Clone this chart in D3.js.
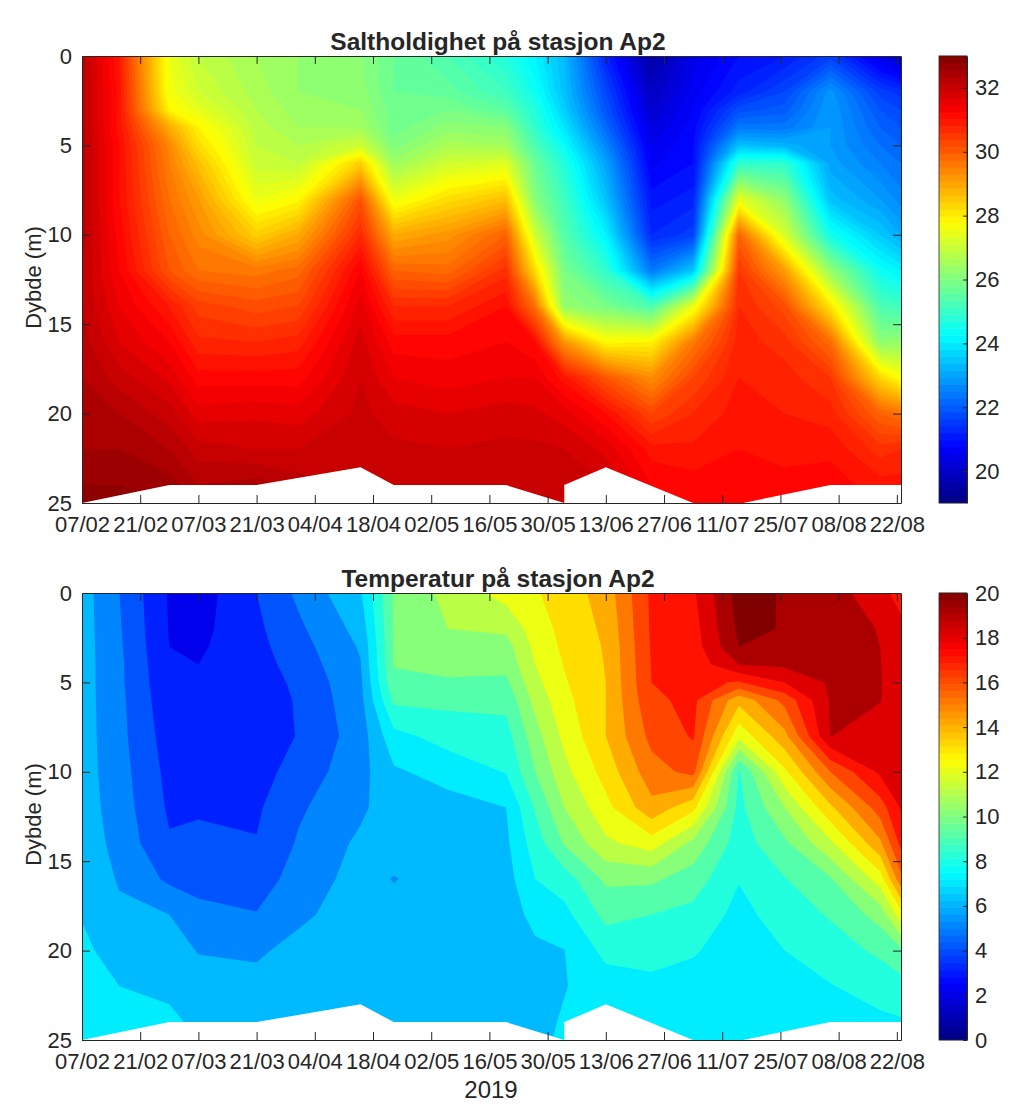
<!DOCTYPE html>
<html><head><meta charset="utf-8">
<style>html,body{margin:0;padding:0;background:#fff}svg{display:block}text{font-family:"Liberation Sans",Arial,sans-serif;fill:#262626}</style>
<script src="https://cdn.jsdelivr.net/npm/d3@7/dist/d3.min.js"></script>
</head><body><svg id="c" width="1024" height="1118"></svg>
<script>
const sampleDates=["2019-02-07","2019-02-16","2019-02-28","2019-03-07","2019-03-21","2019-03-31","2019-04-15","2019-04-23","2019-05-06","2019-05-20","2019-05-27","2019-06-03","2019-06-13","2019-06-24","2019-07-04","2019-07-15","2019-07-26","2019-08-06","2019-08-18","2019-08-23"];
const depths=[0,2,3,4,5,6,8,10,12,14,16,18,20,22,24,25];
const salinity=[
[32.3,32.3,32.3,32.3,32.3,32.3,32.3,32.3,32.2,32.2,32.3,32.4,32.5,32.6,32.8,32.9],
[31,31.1,31.1,31.1,31.2,31.2,31.2,31.3,31.4,31.6,31.8,32.1,32.4,32.6,32.8,32.9],
[27.6,27.7,28,29,29.5,29.6,29.8,30,30.2,31,31.4,31.75,32.1,32.4,32.7,32.8],
[27,27.2,27.5,28,28.3,28.7,29.2,29.5,29.8,30.5,30.85,31.3,31.7,32.1,32.4,32.5],
[26.6,26.7,26.8,26.9,27,27.1,27.6,28.5,29.7,30.3,30.8,31.3,31.75,32,32.5,32.5],
[26.4,26.4,26.5,26.6,26.8,27,27.9,29,29.9,30.4,30.9,31.3,31.7,32,32.3,32.4],
[26.2,26.3,26.4,26.6,27.2,28.5,30.2,30.8,31.4,31.7,31.9,32,32.05,32.1,32.15,32.15],
[25.8,25.8,25.9,25.9,26.1,26.5,27.6,29,30,30.8,31.3,31.6,31.9,32.05,32.15,32.15],
[25.4,25.7,26,26.3,26.7,27.2,28.3,29.3,29.9,30.8,31.3,31.5,31.8,32,32.1,32.1],
[24.8,25.2,25.6,26.2,26.6,27.4,28.7,30,30.7,31.2,31.4,31.6,31.9,32.05,32.15,32.15],
[24.2,24.5,24.8,25,25.4,25.8,26.2,27.2,28.3,29.8,31.2,31.6,31.85,32.05,32.15,32.2],
[23.4,23.5,23.7,24,24.4,24.8,25.2,25.5,26,26.4,29.3,31.1,31.7,32,32.1,32.15],
[21.3,21.8,22,22.3,22.7,23.1,23.5,24.2,25,26,27.9,30.2,31.2,31.75,32,32.1],
[19.6,20,20.2,20.4,20.6,20.75,21.1,21.4,22.5,25.4,28,29.4,30.4,31.1,31.4,31.5],
[20.5,20.7,20.8,20.9,21,21,21.3,21.7,23.6,27.6,29.7,30.4,30.8,31.05,31.3,31.3],
[21,21.3,21.9,22.5,23.5,25,27.5,30,30.6,30.8,30.9,31,31.1,31.2,31.3,31.3],
[21.2,21.8,22.1,22.5,23.3,25,26.3,27.3,29.2,30.3,30.7,30.9,31,31.1,31.3,31.3],
[21.7,22.9,23,23,23,23.1,23.5,24.6,26.4,28.2,29.9,30.6,30.9,31.15,31.3,31.3],
[20.5,21.7,22,22.2,22.4,22.6,23,23.6,24.5,25.4,26.3,28.4,30,30.7,31.1,31.15],
[20,21.5,21.8,22,22.2,22.4,22.7,23.2,24.2,25.2,26.4,27.8,29.8,30.8,31.1,31.15]];
const temperature=[
[6.45,6.45,6.45,6.45,6.45,6.45,6.45,6.45,6.5,6.6,6.75,6.95,7.2,7.4,7.6,7.7],
[5,5.1,5.15,5.2,5.2,5.25,5.3,5.4,5.5,5.65,5.9,6.2,6.6,7,7.2,7.3],
[2.9,2.95,3,3.1,3.2,3.3,3.5,3.7,3.85,4.1,4.8,6,6.4,6.85,7.15,7.2],
[2.5,2.7,2.85,3,3.1,3.2,3.4,3.65,3.9,4.2,4.7,5.25,5.95,6.4,6.85,6.9],
[4,3.8,3.7,3.6,3.5,3.4,3.4,3.6,3.85,4.05,4.5,5.05,5.85,6.3,6.7,6.8],
[5.2,4.8,4.6,4.4,4.2,4.1,4.05,4.4,4.85,5.1,5.4,5.8,6.3,6.6,6.85,6.9],
[6.9,6.35,6.1,5.95,5.8,5.7,5.5,5.65,5.8,6.2,6.4,6.5,6.6,6.7,6.75,6.8],
[10.1,10.1,10.05,10.05,9.8,9.2,7.7,6.85,6.6,6.5,5.95,6.4,6.5,6.6,6.7,6.7],
[11.3,11,10.75,10.5,9.8,9.25,8.4,7.4,6.6,6.55,6.5,6.5,6.5,6.6,6.7,6.7],
[12.4,11.2,10.6,10.3,9.8,9.3,8.6,8.05,7,6.8,6.6,6.5,6.5,6.55,6.6,6.6],
[12.9,12.5,12.25,12,11.7,11.3,10.6,10,9.1,8.5,8,7.3,6.8,6.6,6.7,6.7],
[13.45,13.3,13.2,13.05,12.9,12.7,12.25,11.7,11,10.1,8.5,7.7,6.98,6.95,7.1,7.2],
[14.45,14.2,14.1,14.05,14,14,14,13.4,12.7,11.8,10.2,9.3,8.3,7.5,7.2,7.2],
[17.2,17.15,17.1,17.05,17,16.8,16.3,15.6,14.7,12.5,10.2,9,8.3,7.8,7.5,7.4],
[17.85,17.6,17.5,17.35,17.3,17.25,17.1,16.3,13.3,10.7,9.5,8.7,8.1,7.6,7.3,7.2],
[20.45,20.2,20,19,16.9,14.3,12.3,8.9,8.7,8.5,8.05,7.7,7.5,7.3,7.1,7],
[19.9,19.95,19.6,19.2,18,16.3,14.7,12.8,11,9.8,8.95,8.45,8,7.5,7.2,7.1],
[19.55,19.45,19.35,19.25,19.15,19.1,19.02,16,13.8,11.8,9.9,9.1,8.5,7.95,7.4,7.3],
[18.25,18.95,19,19.03,19.05,19.03,18.6,18.2,16.5,14.8,12.5,10.4,9.2,8.4,7.8,7.7],
[17.7,18.2,18.3,18.4,18.5,18.5,18.5,18.4,18.1,17.3,15.7,12.6,9.8,8.6,7.9,7.85]];
const maskDates=["2019-02-07","2019-02-28","2019-03-21","2019-04-15","2019-04-23","2019-05-20","2019-06-03","2019-06-03","2019-06-13","2019-07-04","2019-07-16","2019-08-06","2019-08-23"];
const maskDepths=[25,24,24,23,24,24,25,24,23,25,25,24,24];
const tickDates=["2019-02-07","2019-02-21","2019-03-07","2019-03-21","2019-04-04","2019-04-18","2019-05-02","2019-05-16","2019-05-30","2019-06-13","2019-06-27","2019-07-11","2019-07-25","2019-08-08","2019-08-22"];
const depthTicks=[0,5,10,15,20,25];
const salinityTicks=[20,22,24,26,28,30,32];
const temperatureTicks=[0,2,4,6,8,10,12,14,16,18,20];
const salinityLevels=d3.range(19,33.01,0.2);
const temperatureLevels=d3.range(0,20.01,1);
const titles=["Saltholdighet på stasjon Ap2","Temperatur på stasjon Ap2"];

const parse=d3.utcParse("%Y-%m-%d"),fmt=d3.utcFormat("%d/%m");
const L=82,R=901,CB0=939,CB1=967,INK="#262626",FS=22;
const x=d3.scaleUtc().domain([parse("2019-02-07"),parse("2019-08-23")]).range([L,R]);
const sx=sampleDates.map(d=>x(parse(d)));
const jetStops=[0,1/8,3/8,5/8,7/8,1],jetCols=["#000080","#0000ff","#00ffff","#ffff00","#ff0000","#800000"];
const svg=d3.select("#c");
function panel(top,bottom,title,grid,levels,cdom,cticks,shift){
  const g=svg.append("g");
  const y=d3.scaleLinear().domain([0,25]).range([top,bottom]);
  const jet=d3.scaleLinear().domain(jetStops.map(f=>cdom[0]+f*(cdom[1]-cdom[0]))).range(jetCols).clamp(true);
  const nx=sampleDates.length,ny=depths.length;
  const vals=[];for(let j=0;j<ny;j++)for(let i=0;i<nx;i++)vals.push(grid[i][j]);
  const ix=d3.scaleLinear().domain(d3.range(nx)).range(sx).clamp(true);
  const iy=d3.scaleLinear().domain(d3.range(ny)).range(depths.map(y)).clamp(true);
  const conts=d3.contours().size([nx,ny]).thresholds(levels)(vals);
  const clipId="clip"+top;
  svg.append("clipPath").attr("id",clipId).append("rect").attr("x",L).attr("y",top).attr("width",R-L).attr("height",bottom-top);
  const mp=d3.geoPath(d3.geoTransform({point(a,b){this.stream.point(ix(a-0.5),iy(b-0.5));}}));
  const cg=g.append("g").attr("clip-path",`url(#${clipId})`);
  cg.append("rect").attr("x",L).attr("y",top).attr("width",R-L).attr("height",bottom-top).attr("fill",jet(levels[0]));
  cg.selectAll("path.b").data(conts).join("path").attr("class","b").attr("d",mp).attr("fill",d=>jet(d.value+shift));
  const area=d3.area().x(d=>x(parse(d[0]))).y0(bottom+2).y1(d=>y(d[1]));
  cg.append("path").attr("d",area(maskDates.map((d,i)=>[d,maskDepths[i]]))).attr("fill","#fff");
  const td=tickDates.map(parse);
  const styl=s=>{s.select(".domain").attr("stroke",INK).attr("stroke-width",1);s.selectAll(".tick line").attr("stroke",INK).attr("stroke-width",1);s.selectAll("text").style("font-size",FS+"px").attr("fill",INK).attr("font-family",'"Liberation Sans",Arial,sans-serif');};
  g.append("g").attr("transform",`translate(0,${bottom})`).call(d3.axisBottom(x).tickValues(td).tickFormat(fmt).tickSizeInner(-8).tickSizeOuter(0).tickPadding(13)).call(styl);
  g.append("g").attr("transform",`translate(0,${top})`).call(d3.axisTop(x).tickValues(td).tickFormat("").tickSizeInner(-8).tickSizeOuter(0)).call(styl);
  g.append("g").attr("transform",`translate(${L},0)`).call(d3.axisLeft(y).tickValues(depthTicks).tickFormat(d3.format("d")).tickSizeInner(-8).tickSizeOuter(0).tickPadding(10)).call(styl);
  g.append("g").attr("transform",`translate(${R},0)`).call(d3.axisRight(y).tickValues(depthTicks).tickFormat("").tickSizeInner(-8).tickSizeOuter(0)).call(styl);
  g.append("text").attr("x",498).attr("y",top-6).attr("text-anchor","middle").style("font-size","24.5px").style("font-weight","bold").attr("fill","#000").text(title);
  g.append("text").attr("transform",`translate(41,${(top+bottom)/2-2}) rotate(-90)`).attr("text-anchor","middle").style("font-size",FS+"px").text("Dybde (m)");
  const cy=d3.scaleLinear().domain(cdom).range([bottom,top]);
  const steps=d3.range(64).map(i=>cdom[0]+(i+0.5)/64*(cdom[1]-cdom[0]));
  const h=(bottom-top)/64;
  g.append("g").selectAll("rect").data(steps).join("rect").attr("x",CB0).attr("width",CB1-CB0).attr("y",d=>cy(d)-h/2-0.2).attr("height",h+0.4).attr("fill",d=>jet(d));
  g.append("g").attr("transform",`translate(${CB1},0)`).call(d3.axisRight(cy).tickValues(cticks).tickFormat(d3.format("d")).tickSizeInner(-4).tickSizeOuter(0).tickPadding(8)).call(styl);
  g.append("rect").attr("x",CB0).attr("y",top).attr("width",CB1-CB0).attr("height",bottom-top).attr("fill","none").attr("stroke",INK).attr("stroke-width",0.8);
}
panel(56,503,titles[0],salinity,salinityLevels,[19,33],salinityTicks,0);
panel(593,1040,titles[1],temperature,temperatureLevels,[0,20],temperatureTicks,0.15);
svg.append("text").attr("x",491).attr("y",1098).attr("text-anchor","middle").style("font-size","24px").text("2019");
</script></body></html>
